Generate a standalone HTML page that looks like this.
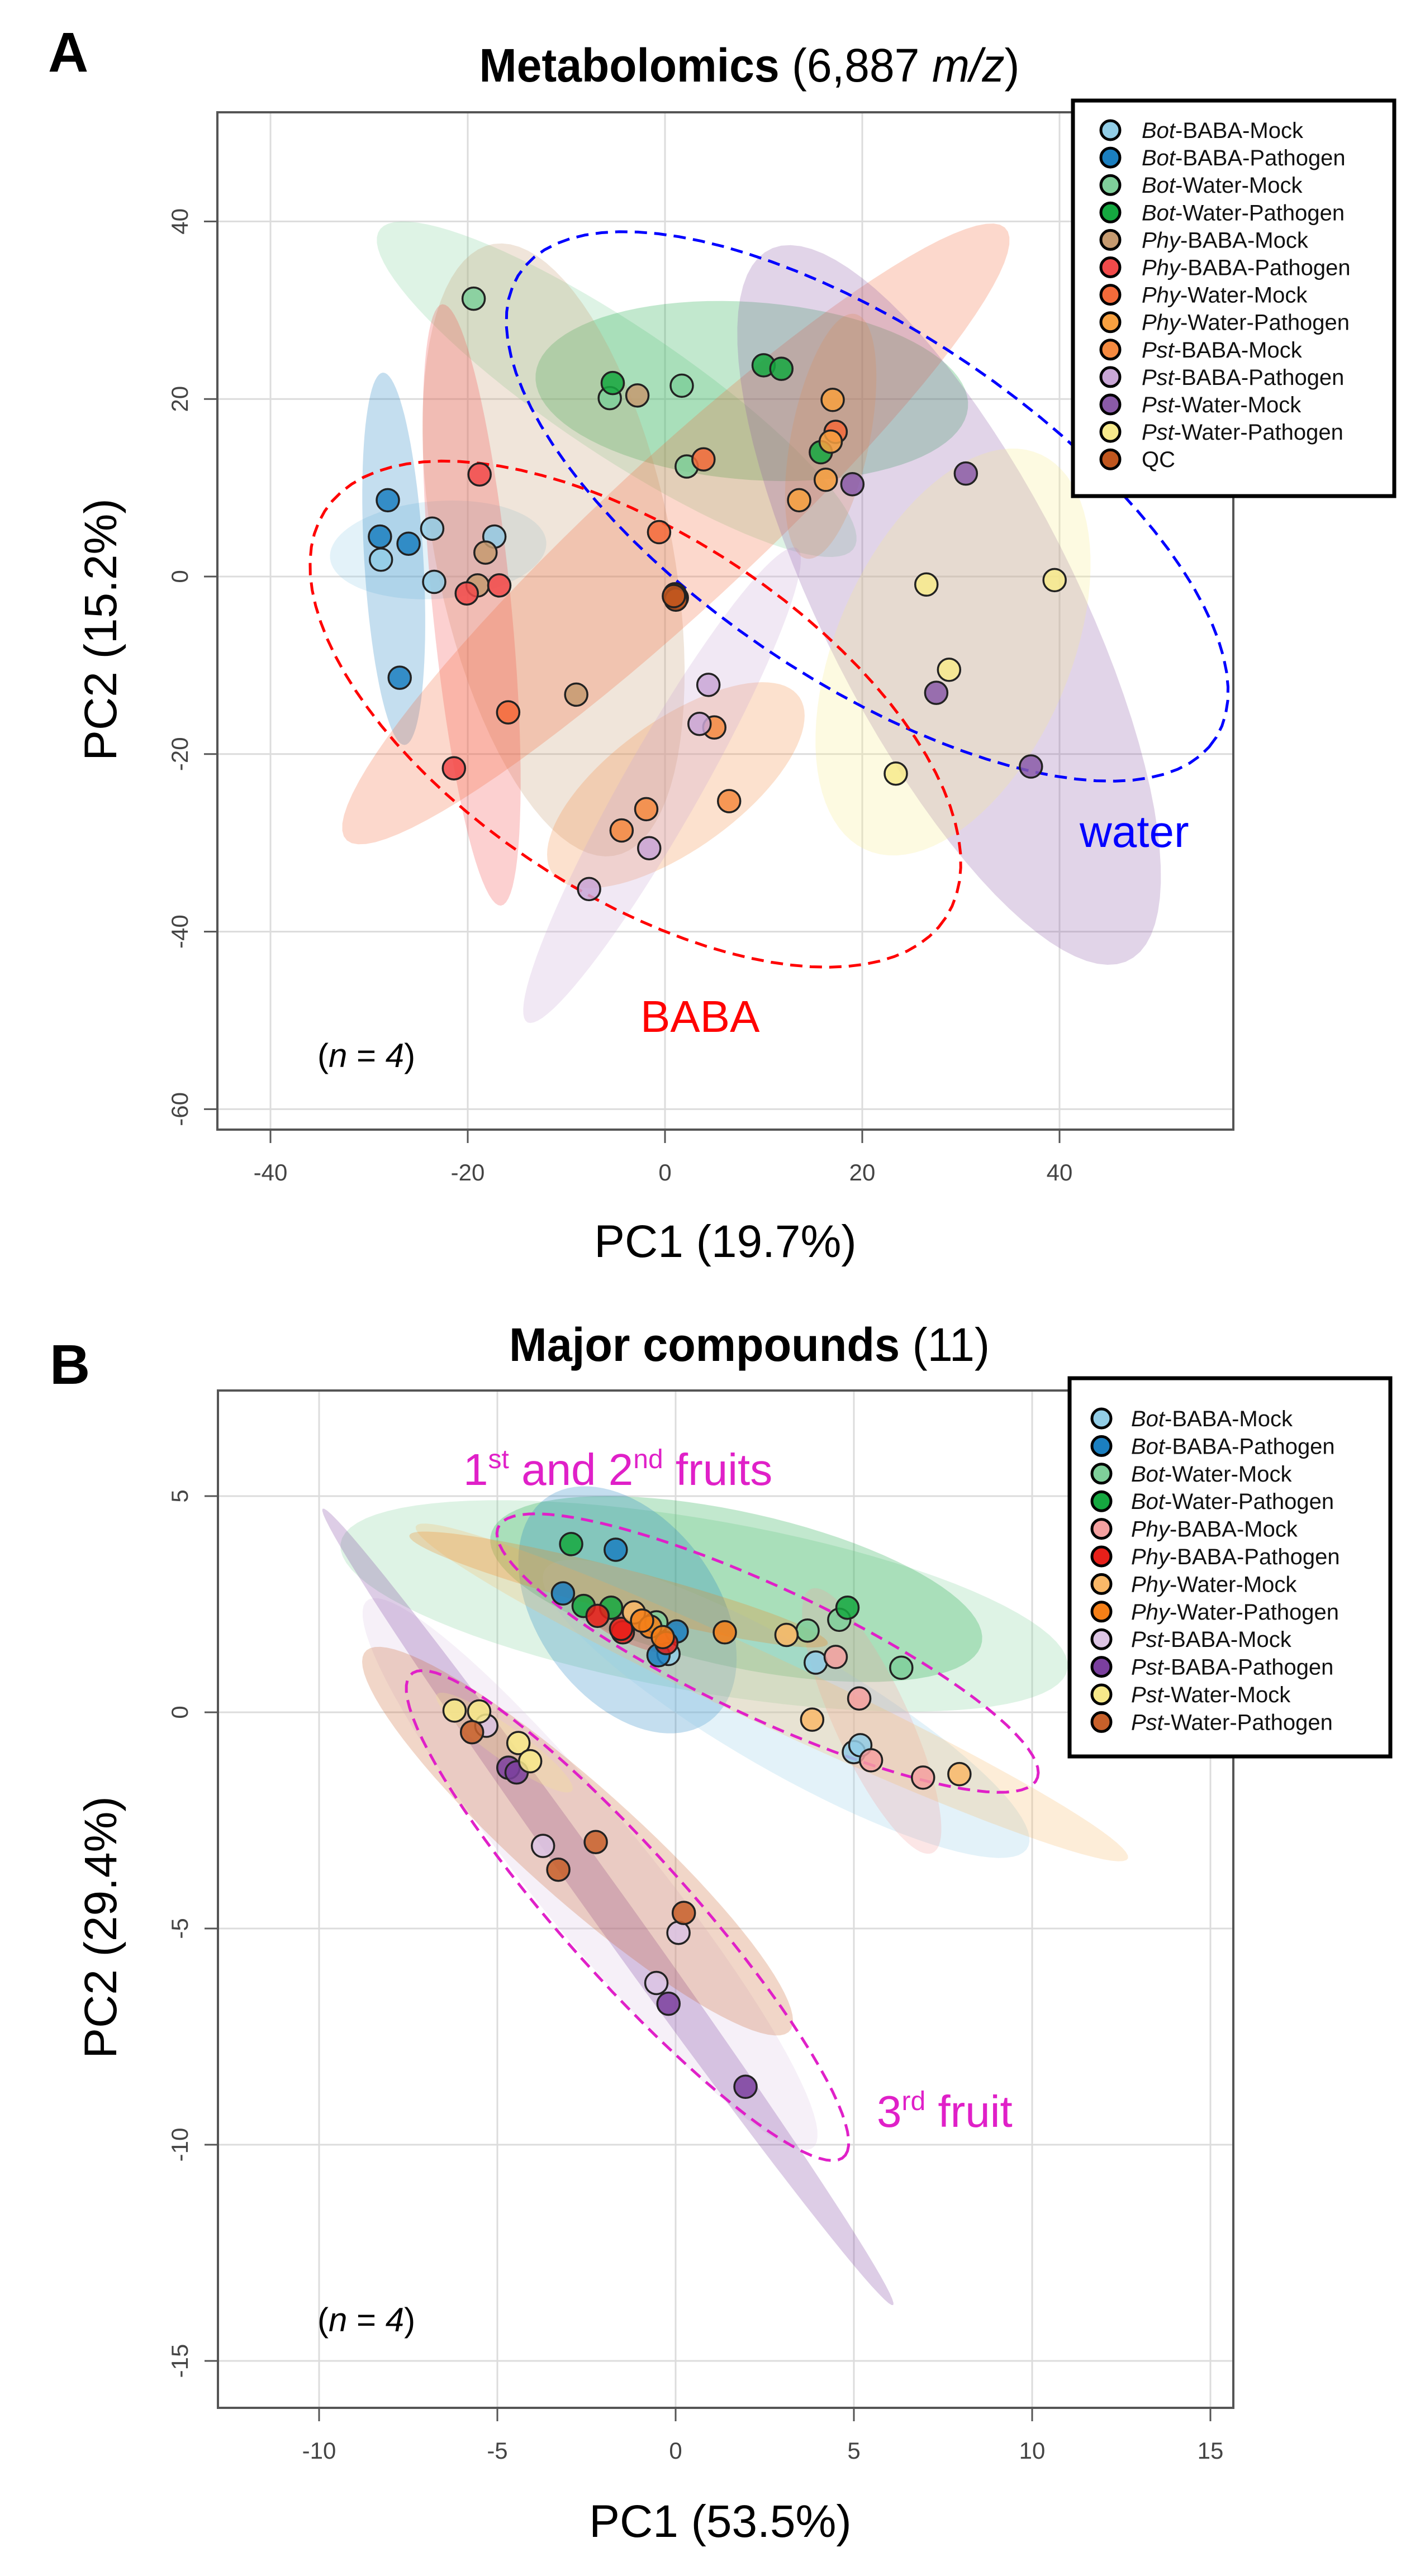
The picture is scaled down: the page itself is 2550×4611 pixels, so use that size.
<!DOCTYPE html>
<html><head><meta charset="utf-8"><style>
html,body{margin:0;padding:0;background:#fff;}
svg{display:block;font-family:"Liberation Sans",Arial,sans-serif;}
</style></head><body>
<svg id="fig" xmlns="http://www.w3.org/2000/svg" width="2550" height="4611" viewBox="0 0 2550 4611">
<defs>
<clipPath id="clipA"><rect x="389" y="201" width="1818" height="1821"/></clipPath>
<clipPath id="clipB"><rect x="390" y="2489" width="1817" height="1821"/></clipPath>
</defs>
</svg>
<script>
// ---------- Panel A data ----------
const groupsA = ["Bot-BABA-Mock","Bot-BABA-Pathogen","Bot-Water-Mock","Bot-Water-Pathogen","Phy-BABA-Mock","Phy-BABA-Pathogen","Phy-Water-Mock","Phy-Water-Pathogen","Pst-BABA-Mock","Pst-BABA-Pathogen","Pst-Water-Mock","Pst-Water-Pathogen","QC"];
const colorsA = ["#92cde6","#1b7fc0","#7fcf9a","#15a840","#c59a70","#f24a4a","#f46a3a","#f7a040","#f58a40","#c9a6d6","#8a5aa8","#f7ea8c","#c0561e"];
const pc1A = [[-28.8,-23.6,-23.4,-17.3],[-28.1,-28.9,-26.0,-26.9],[-19.4,-5.6,1.7,2.2],[-5.3,10.0,11.8,15.8],[-2.8,-18.2,-19.0,-9.0],[-18.8,-20.1,-16.8,-21.4],[-0.6,-15.9,3.9,17.3],[17.0,16.8,16.3,13.6],[5.0,-1.9,-4.4,6.5],[4.4,3.5,-1.6,-7.7],[19.0,30.5,27.5,37.1],[26.5,39.5,28.8,23.4],[1.0,1.2,1.1,0.9]];
const pc2A = [[1.9,5.4,-0.6,4.5],[8.6,4.5,3.7,-11.4],[31.3,20.1,21.5,12.4],[21.8,23.8,23.4,14.0],[20.4,2.7,-1.0,-13.3],[11.5,-1.9,-1.0,-21.6],[5.0,-15.3,13.2,16.3],[19.9,15.2,10.9,8.6],[-17.0,-26.2,-28.6,-25.3],[-12.2,-16.6,-30.6,-35.2],[10.4,11.6,-13.1,-21.4],[-0.9,-0.4,-10.5,-22.2],[-2.0,-2.4,-2.6,-2.2]];
const ellGroupA = [0,1,2,3,4,5,6,7,8,9,10,11];
const ellCxA = [-23,-27.5,-4.9,8.8,-11.3,-19.6,1.1,16.8,1.1,-0.3,28.8,29.2];
const ellCyA = [3,2,21.1,20.9,3,-3.2,4.8,15.8,-23.5,-23.5,-3.2,-8.5];
const ellAA = [11,21,30,22,35,34,48,14,16,30,44,24];
const ellBA = [5.5,3,7,10,12,4,8,4,7,4,13,12];
const ellAngA = [5,93,-37,-5,100,95,46,80,40,63,-66,70];
const ticksXA = [-40,-20,0,20,40];
const ticksYA = [-60,-40,-20,0,20,40];
const grpNameA = ["water","BABA"];
const grpCxA = [20.5,-3];
const grpCyA = [7.9,-15.5];
const grpAA = [44,39];
const grpBA = [19,19.5];
const grpAngA = [-38,-38];

// ---------- Panel B data ----------
const groupsB = ["Bot-BABA-Mock","Bot-BABA-Pathogen","Bot-Water-Mock","Bot-Water-Pathogen","Phy-BABA-Mock","Phy-BABA-Pathogen","Phy-Water-Mock","Phy-Water-Pathogen","Pst-BABA-Mock","Pst-BABA-Pathogen","Pst-Water-Mock","Pst-Water-Pathogen"];
const colorsB = ["#92cde6","#1b7fc0","#7fcf9a","#15a840","#f4a0a0","#e8201a","#f9b868","#f57f17","#dcc4e4","#7b3f9e","#f7e98a","#c8602a"];
const pc1B = [[3.93,5.0,5.18,-0.2],[-1.68,-3.16,0.03,-0.48],[-0.54,3.7,6.33,4.59],[-2.93,-2.58,-1.81,4.82],[4.49,5.15,5.48,6.94],[-2.19,-1.48,-0.26,-1.53],[-1.17,3.83,7.96,3.11],[-0.71,1.38,-0.94,-0.36],[-5.31,-3.72,0.08,-0.54],[-4.69,-4.46,-0.2,1.96],[-6.2,-5.51,-4.41,-4.08],[-5.71,-2.24,-3.29,0.23]];
const pc2B = [[1.15,-0.92,-0.76,1.35],[3.76,2.75,1.87,1.32],[2.08,1.89,1.03,2.14],[3.89,2.46,2.42,2.42],[1.28,0.32,-1.11,-1.51],[2.23,1.85,1.6,1.93],[2.31,-0.17,-1.43,1.79],[1.98,1.85,2.12,1.74],[-0.31,-3.09,-5.1,-6.26],[-1.28,-1.39,-6.74,-8.66],[0.04,0.02,-0.71,-1.13],[-0.46,-3.0,-3.64,-4.64]];
const ellGroupB = [2,3,1,0,4,6,7,5,8,9,11,10];
const ellCxB = [0.8,1.7,-1.35,3.1,5.5,2.7,-1.6,-1.3,-2.4,-1.9,-2.75,-4.8];
const ellCyB = [2.46,2.85,2.37,0.08,-0.2,0.46,2.84,1.9,-3.74,-4.5,-2.98,-0.7];
const ellAB = [10.3,7,3.5,7.5,3.5,10.7,6,1.3,8.9,12.2,7.4,2.2];
const ellBB = [2.0,1.8,2.3,1.5,1.0,0.8,0.5,0.3,1.5,0.5,1.4,0.4];
const ellAngB = [-8,-10,-40,-25,-60,-21,-12,-20,-45,-49,-36,-30];
const ticksXB = [-10,-5,0,5,10,15];
const ticksYB = [-15,-10,-5,0,5];
const grpNameB = ["fruits-1-2","fruit-3"];
const grpCxB = [2.58,-1.35];
const grpCyB = [1.37,-4.7];
const grpAB = [8.1,8.25];
const grpBB = [1.55,1.6];
const grpAngB = [-20.8,-42.2];

// ---------- axes ----------
const XA = v => 1190 + 17.65 * v;
const YA = v => 1032 - 15.89 * v;
const XB = v => 1209 + 63.8 * v;
const YB = v => 3065 - 77.4 * v;

const NS = "http://www.w3.org/2000/svg";
const svg = document.getElementById("fig");
function mk(tag, parent) { const e = document.createElementNS(NS, tag); (parent || svg).appendChild(e); return e; }
function ellPath(X, Y, cx, cy, a, b, ang) {
  const th = ang * Math.PI / 180; let d = "";
  for (let i = 0; i <= 90; i++) {
    const t = i / 90 * 2 * Math.PI;
    const dx = a * Math.cos(t) * Math.cos(th) - b * Math.sin(t) * Math.sin(th);
    const dy = a * Math.cos(t) * Math.sin(th) + b * Math.sin(t) * Math.cos(th);
    d += (i ? "L" : "M") + X(cx + dx).toFixed(1) + " " + Y(cy + dy).toFixed(1);
  }
  return d + "Z";
}

function panel(cfg) {
  const g = mk("g");
  
  
  cfg.tx.forEach(v => {
    const l = mk("line", g);
    
    
    l.setAttribute("x1", cfg.X(v)); l.setAttribute("x2", cfg.X(v));
    l.setAttribute("y1", cfg.fy0); l.setAttribute("y2", cfg.fy1);
    l.setAttribute("stroke", "#dcdcdc"); l.setAttribute("stroke-width", "3");
  });
  cfg.ty.forEach(v => {
    const l = mk("line", g);
    
    
    l.setAttribute("y1", cfg.Y(v)); l.setAttribute("y2", cfg.Y(v));
    l.setAttribute("x1", cfg.fx0); l.setAttribute("x2", cfg.fx1);
    l.setAttribute("stroke", "#dcdcdc"); l.setAttribute("stroke-width", "3");
  });
  const eg = mk("g", g);
  eg.setAttribute("clip-path", "url(#" + cfg.clip + ")");
  cfg.eg.forEach((gi, i) => {
    const p = mk("path", eg);
    
    
    p.setAttribute("d", ellPath(cfg.X, cfg.Y, cfg.ecx[i], cfg.ecy[i], cfg.ea[i], cfg.eb[i], cfg.eang[i]));
    p.setAttribute("fill", cfg.colors[gi]); p.setAttribute("fill-opacity", "0.26");
  });
  cfg.gn.forEach((n, i) => {
    const p = mk("path", g);
    
    
    p.setAttribute("d", ellPath(cfg.X, cfg.Y, cfg.gcx[i], cfg.gcy[i], cfg.ga[i], cfg.gb[i], cfg.gang[i]));
    p.setAttribute("fill", "none"); p.setAttribute("stroke", cfg.gcol[i]);
    p.setAttribute("stroke-width", "5"); p.setAttribute("stroke-dasharray", "22 13");
  });
  cfg.px.forEach((xs, gi) => {
    xs.forEach((x, j) => {
      const c = mk("circle", g);
      
      
      c.setAttribute("cx", cfg.X(x)); c.setAttribute("cy", cfg.Y(cfg.py[gi][j]));
      c.setAttribute("r", "20"); c.setAttribute("fill", cfg.colors[gi]);
      c.setAttribute("fill-opacity", "0.85");
      c.setAttribute("stroke", "#222"); c.setAttribute("stroke-width", "3.5");
    });
  });
  const f = mk("rect", g);
  
  
  f.setAttribute("x", cfg.fx0); f.setAttribute("y", cfg.fy0);
  f.setAttribute("width", cfg.fx1 - cfg.fx0); f.setAttribute("height", cfg.fy1 - cfg.fy0);
  f.setAttribute("fill", "none"); f.setAttribute("stroke", "#555"); f.setAttribute("stroke-width", "4");
  cfg.tx.forEach(v => {
    const t = mk("line", g);
    
    
    t.setAttribute("x1", cfg.X(v)); t.setAttribute("x2", cfg.X(v));
    t.setAttribute("y1", cfg.fy1); t.setAttribute("y2", cfg.fy1 + 24);
    t.setAttribute("stroke", "#555"); t.setAttribute("stroke-width", "3");
    const s = mk("text", g);
    
    
    s.setAttribute("x", cfg.X(v)); s.setAttribute("y", cfg.fy1 + 91);
    s.setAttribute("text-anchor", "middle"); s.setAttribute("font-size", "42"); s.setAttribute("fill", "#444");
    s.textContent = String(v);
  });
  cfg.ty.forEach(v => {
    const t = mk("line", g);
    
    
    t.setAttribute("y1", cfg.Y(v)); t.setAttribute("y2", cfg.Y(v));
    t.setAttribute("x1", cfg.fx0); t.setAttribute("x2", cfg.fx0 - 24);
    t.setAttribute("stroke", "#555"); t.setAttribute("stroke-width", "3");
    const s = mk("text", g);
    
    
    s.setAttribute("transform", "translate(336," + cfg.Y(v) + ") rotate(-90)");
    s.setAttribute("text-anchor", "middle"); s.setAttribute("font-size", "42"); s.setAttribute("fill", "#444");
    s.textContent = String(v);
  });
  const lg = mk("g", g);
  
  
  const lb = mk("rect", lg);
  
  
  lb.setAttribute("x", cfg.lx0); lb.setAttribute("y", cfg.ly0);
  lb.setAttribute("width", cfg.lx1 - cfg.lx0); lb.setAttribute("height", cfg.ly1 - cfg.ly0);
  lb.setAttribute("fill", "#fff"); lb.setAttribute("stroke", "#000"); lb.setAttribute("stroke-width", "7");
  cfg.groups.forEach((n, i) => {
    const cy = cfg.lyFirst + i * cfg.lstep;
    const c = mk("circle", lg);
    
    
    c.setAttribute("cx", cfg.lcx); c.setAttribute("cy", cy); c.setAttribute("r", "17");
    c.setAttribute("fill", cfg.colors[i]); c.setAttribute("stroke", "#000"); c.setAttribute("stroke-width", "5");
    const t = mk("text", lg);
    
    
    t.setAttribute("x", cfg.ltx); t.setAttribute("y", cy + 14);
    t.setAttribute("font-size", "40"); t.setAttribute("fill", "#111");
    const k = n.indexOf("-");
    if (k > 0) {
      const a = mk("tspan", t); a.setAttribute("font-style", "italic"); a.textContent = n.slice(0, k);
      const b = mk("tspan", t); b.textContent = n.slice(k);
    } else { t.textContent = n; }
  });
}

panel({name:"panel-a", X:XA, Y:YA, fx0:389, fx1:2207, fy0:201, fy1:2022, clip:"clipA",
  tx:ticksXA, ty:ticksYA, groups:groupsA, colors:colorsA, px:pc1A, py:pc2A,
  eg:ellGroupA, ecx:ellCxA, ecy:ellCyA, ea:ellAA, eb:ellBA, eang:ellAngA,
  gn:grpNameA, gcx:grpCxA, gcy:grpCyA, ga:grpAA, gb:grpBA, gang:grpAngA, gcol:["#0000ff","#ff0000"],
  lx0:1920, lx1:2495, ly0:180, ly1:888, lyFirst:233, lstep:49.1, lcx:1987, ltx:2043});
panel({name:"panel-b", X:XB, Y:YB, fx0:390, fx1:2207, fy0:2489, fy1:4310, clip:"clipB",
  tx:ticksXB, ty:ticksYB, groups:groupsB, colors:colorsB, px:pc1B, py:pc2B,
  eg:ellGroupB, ecx:ellCxB, ecy:ellCyB, ea:ellAB, eb:ellBB, eang:ellAngB,
  gn:grpNameB, gcx:grpCxB, gcy:grpCyB, ga:grpAB, gb:grpBB, gang:grpAngB, gcol:["#e020c8","#e020c8"],
  lx0:1914, lx1:2488, ly0:2467, ly1:3144, lyFirst:2539, lstep:49.4, lcx:1971, ltx:2024});
</script>
<svg style="position:absolute;left:0;top:0" width="2550" height="4611" font-family="Liberation Sans, Arial, sans-serif">
  <text x="86" y="128" font-size="100" font-weight="bold">A</text>
  <text x="1341" y="146" font-size="84" text-anchor="middle" textLength="967" lengthAdjust="spacingAndGlyphs"><tspan font-weight="bold">Metabolomics</tspan> (6,887 <tspan font-style="italic">m/z</tspan>)</text>
  <text x="1298" y="2250" font-size="82" text-anchor="middle">PC1 (19.7%)</text>
  <text transform="translate(208,1127) rotate(-90)" font-size="82" text-anchor="middle">PC2 (15.2%)</text>
  <text x="568" y="1910" font-size="60">(<tspan font-style="italic">n</tspan> = <tspan font-style="italic">4</tspan>)</text>
  <text x="1932" y="1516" font-size="80" fill="#0000ff">water</text>
  <text x="1146" y="1847" font-size="80" fill="#ff0000">BABA</text>

  <text x="89" y="2477" font-size="100" font-weight="bold">B</text>
  <text x="1341" y="2436" font-size="84" text-anchor="middle" textLength="860" lengthAdjust="spacingAndGlyphs"><tspan font-weight="bold">Major compounds</tspan> (11)</text>
  <text x="1289" y="4541" font-size="82" text-anchor="middle">PC1 (53.5%)</text>
  <text transform="translate(208,3450) rotate(-90)" font-size="82" text-anchor="middle">PC2 (29.4%)</text>
  <text x="568" y="4173" font-size="60">(<tspan font-style="italic">n</tspan> = <tspan font-style="italic">4</tspan>)</text>
  <text x="829" y="2658" font-size="80" fill="#e020c8">1<tspan font-size="48" dy="-30">st</tspan><tspan dy="30"> and 2</tspan><tspan font-size="48" dy="-30">nd</tspan><tspan dy="30"> fruits</tspan></text>
  <text x="1569" y="3807" font-size="80" fill="#e020c8">3<tspan font-size="48" dy="-30">rd</tspan><tspan dy="30"> fruit</tspan></text>
</svg>
</body></html>
